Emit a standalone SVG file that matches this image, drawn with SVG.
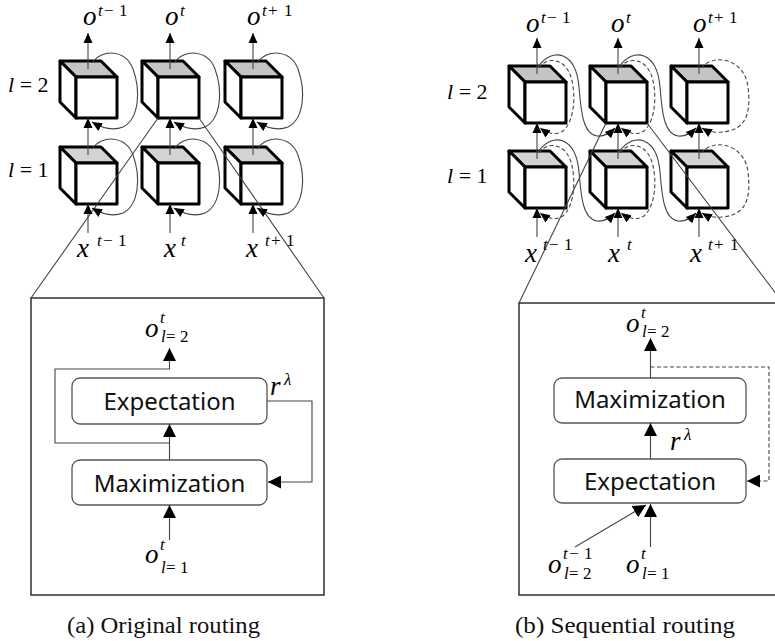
<svg xmlns="http://www.w3.org/2000/svg" width="775" height="641" viewBox="0 0 775 641">
<style>
.m{font-family:"Liberation Serif","DejaVu Serif",serif;fill:#000}
.i{font-style:italic}
.b{font-size:27px}
.s{font-size:17px}
.lab{font-size:22px}
.cap{font-family:"Liberation Serif","DejaVu Serif",serif;font-size:23px;fill:#111}
.bt{font-family:"Noto Sans","Open Sans",sans-serif;font-size:24px;text-anchor:middle;fill:#111}
.cube{stroke:#000;stroke-width:3;stroke-linejoin:round}
.ln{fill:none;stroke:#444;stroke-width:1.1}
.dash{stroke-dasharray:4 2.5}
.frame{fill:#fff;stroke:#222;stroke-width:1.4}
.rbox{fill:#fff;stroke:#555;stroke-width:1.3}
.ah{marker-end:url(#ah)}
.ahb{marker-end:url(#ahb)}
</style>
<defs>
<marker id="ah" markerUnits="userSpaceOnUse" markerWidth="10" markerHeight="10" viewBox="0 0 10 10" refX="10" refY="5" orient="auto"><path d="M0,0.5L10,5L0,9.5Z" fill="#000"/></marker>
<marker id="ahb" markerUnits="userSpaceOnUse" markerWidth="13" markerHeight="13" viewBox="0 0 13 13" refX="13" refY="6.5" orient="auto"><path d="M0,0L13,6.5L0,13Z" fill="#000"/></marker>
<g id="cube" class="cube">
<path d="M-16,-16H25L41,0H0Z"/>
<path d="M-16,-16L0,0V41L-16,25Z" fill="#fff"/>
<rect width="41" height="41" fill="#fff"/>
</g>
</defs>
<rect width="775" height="641" fill="#fff"/>

<!-- frames -->
<g id="frame-a"><rect class="frame" x="31" y="298" width="293" height="297"/></g>
<g id="frame-b"><rect class="frame" x="519" y="303" width="300" height="292"/></g>

<!-- cubes panel a -->
<g id="a-l2-t0"><use href="#cube" x="76" y="77" fill="#c4c4c4"/></g>
<g id="a-l2-t1"><use href="#cube" x="158" y="77" fill="#c4c4c4"/></g>
<g id="a-l2-t2"><use href="#cube" x="241" y="77" fill="#c4c4c4"/></g>
<g id="a-l1-t0"><use href="#cube" x="76" y="163" fill="#d3d3d3"/></g>
<g id="a-l1-t1"><use href="#cube" x="158" y="163" fill="#d3d3d3"/></g>
<g id="a-l1-t2"><use href="#cube" x="241" y="163" fill="#d3d3d3"/></g>

<!-- cubes panel b -->
<g id="b-l2-t0"><use href="#cube" x="525" y="82" fill="#c4c4c4"/></g>
<g id="b-l2-t1"><use href="#cube" x="606" y="82" fill="#c4c4c4"/></g>
<g id="b-l2-t2"><use href="#cube" x="687" y="82" fill="#c4c4c4"/></g>
<g id="b-l1-t0"><use href="#cube" x="525" y="167" fill="#d3d3d3"/></g>
<g id="b-l1-t1"><use href="#cube" x="606" y="167" fill="#d3d3d3"/></g>
<g id="b-l1-t2"><use href="#cube" x="687" y="167" fill="#d3d3d3"/></g>

<!-- boxes -->
<g id="a-expectation"><rect class="rbox" x="72" y="378" width="195" height="46" rx="8"/><text class="bt" x="169.5" y="410">Expectation</text></g>
<g id="a-maximization"><rect class="rbox" x="72" y="460" width="195" height="45" rx="8"/><text class="bt" x="169.5" y="492">Maximization</text></g>
<g id="b-maximization"><rect class="rbox" x="554" y="378" width="192" height="45" rx="8"/><text class="bt" x="650" y="408">Maximization</text></g>
<g id="b-expectation"><rect class="rbox" x="554" y="459" width="192" height="44" rx="8"/><text class="bt" x="650" y="490">Expectation</text></g>

<!-- connectors -->
<g id="connectors">
<path class="ln" d="M158,118L31,298M199,118L324,298"/>
<path class="ln" d="M606,123L519,303M647,123L783,303"/>
<path class="ln ah" d="M88,69V33"/><path class="ln ah" d="M170,69V33"/><path class="ln ah" d="M253,69V33"/>
<path class="ln ah" d="M88,155V118"/><path class="ln ah" d="M170,155V118"/><path class="ln ah" d="M253,155V118"/>
<path class="ln ah" d="M88,233V204"/><path class="ln ah" d="M170,233V204"/><path class="ln ah" d="M253,233V204"/>
<path class="ln ah" d="M92,63C102,48 126,50 133,69C141,91 139,119 123,127C113,131 102,128 92,122"/>
<path class="ln ah" d="M174,63C184,48 208,50 215,69C223,91 221,119 205,127C195,131 184,128 174,122"/>
<path class="ln ah" d="M257,63C267,48 291,50 298,69C306,91 304,119 288,127C278,131 267,128 257,122"/>
<path class="ln ah" d="M92,149C102,134 126,136 133,155C141,177 139,205 123,213C113,217 102,214 92,208"/>
<path class="ln ah" d="M174,149C184,134 208,136 215,155C223,177 221,205 205,213C195,217 184,214 174,208"/>
<path class="ln ah" d="M257,149C267,134 291,136 298,155C306,177 304,205 288,213C278,217 267,214 257,208"/>
<path class="ln ah" d="M537,74V38"/><path class="ln ah" d="M618,74V38"/><path class="ln ah" d="M699,74V38"/>
<path class="ln ah" d="M537,159V123"/><path class="ln ah" d="M618,159V123"/><path class="ln ah" d="M699,159V123"/>
<path class="ln ah" d="M537,237V208"/><path class="ln ah" d="M618,237V208"/><path class="ln ah" d="M699,237V208"/>
<path class="ln dash ah" d="M539,68C547,56 565,58 571,77C576,94 575,120 563,131C555,136 547,133 540,128"/>
<path class="ln dash ah" d="M620,68C628,56 646,58 652,77C657,94 656,120 644,131C636,136 628,133 621,128"/>
<path class="ln dash ah" d="M701,68C715,52 745,60 748,87C751,112 747,130 722,132C715,133 707,131 702,128"/>
<path class="ln dash ah" d="M539,153C547,141 565,143 571,162C576,179 575,205 563,216C555,221 547,218 540,213"/>
<path class="ln dash ah" d="M620,153C628,141 646,143 652,162C657,179 656,205 644,216C636,221 628,218 621,213"/>
<path class="ln dash ah" d="M701,153C715,137 745,145 748,172C751,197 747,215 722,217C715,218 707,216 702,213"/>
<path class="ln ah" d="M538,67C553,46 576,52 579,87C581,112 583,134 597,136C605,137 611,132 615,128"/>
<path class="ln ah" d="M619,67C634,46 657,52 660,87C662,112 664,134 678,136C686,137 692,132 696,128"/>
<path class="ln ah" d="M538,152C553,131 576,137 579,172C581,197 583,219 597,221C605,222 611,217 615,213"/>
<path class="ln ah" d="M619,152C634,131 657,137 660,172C662,197 664,219 678,221C686,222 692,217 696,213"/>
<path class="ln ahb" d="M169.5,540V505"/>
<path class="ln ahb" d="M169.5,460V424"/>
<path class="ln ahb" d="M169.5,443H55V369H169.5V348"/>
<path class="ln ahb" d="M267,401H312V482H268"/>
<path class="ln ahb" d="M650.5,378V338"/>
<path class="ln dash ahb" d="M650.5,367H769V481H747"/>
<path class="ln ahb" d="M650.5,459V423"/>
<path class="ln ahb" d="M650.5,547V504"/>
<path class="ln ahb" d="M575,547L646,505"/>
</g>

<!-- labels panel a -->
<g id="a-labels" class="m">
<text><tspan class="i b" x="83" y="25">o</tspan><tspan class="i s" x="98" y="16">t</tspan><tspan class="s" x="104" y="16">−</tspan><tspan class="s" x="119" y="16">1</tspan></text>
<text><tspan class="i b" x="165" y="25">o</tspan><tspan class="i s" x="180" y="16">t</tspan></text>
<text><tspan class="i b" x="247" y="25">o</tspan><tspan class="i s" x="262" y="16">t</tspan><tspan class="s" x="268" y="16">+</tspan><tspan class="s" x="284" y="16">1</tspan></text>
<text class="lab" x="8" y="92"><tspan class="i">l</tspan> = 2</text>
<text class="lab" x="8" y="177"><tspan class="i">l</tspan> = 1</text>
<text><tspan class="i b" x="77" y="257">x</tspan><tspan class="i s" x="97" y="246">t</tspan><tspan class="s" x="103" y="246">−</tspan><tspan class="s" x="118" y="246">1</tspan></text>
<text><tspan class="i b" x="164" y="257">x</tspan><tspan class="i s" x="181" y="246">t</tspan></text>
<text><tspan class="i b" x="246" y="257">x</tspan><tspan class="i s" x="265" y="246">t</tspan><tspan class="s" x="271" y="246">+</tspan><tspan class="s" x="286" y="246">1</tspan></text>
<text><tspan class="i b" x="145" y="337">o</tspan><tspan class="i s" x="160" y="323">t</tspan></text>
<text><tspan class="i s" x="161" y="342">l</tspan><tspan class="s" x="166" y="342">=</tspan><tspan class="s" x="180" y="342">2</tspan></text>
<text><tspan class="i b" x="270" y="395">r</tspan><tspan class="i s" x="284" y="385">λ</tspan></text>
<text><tspan class="i b" x="145" y="563">o</tspan><tspan class="i s" x="160" y="550">t</tspan></text>
<text><tspan class="i s" x="161" y="573">l</tspan><tspan class="s" x="166" y="573">=</tspan><tspan class="s" x="180" y="573">1</tspan></text>
<text class="cap" x="67" y="633" textLength="193" lengthAdjust="spacingAndGlyphs">(a) Original routing</text>
</g>

<!-- labels panel b -->
<g id="b-labels" class="m">
<text><tspan class="i b" x="526" y="32">o</tspan><tspan class="i s" x="541" y="23">t</tspan><tspan class="s" x="547" y="23">−</tspan><tspan class="s" x="562" y="23">1</tspan></text>
<text><tspan class="i b" x="611" y="32">o</tspan><tspan class="i s" x="626" y="23">t</tspan></text>
<text><tspan class="i b" x="693" y="32">o</tspan><tspan class="i s" x="708" y="23">t</tspan><tspan class="s" x="714" y="23">+</tspan><tspan class="s" x="729" y="23">1</tspan></text>
<text class="lab" x="447" y="99"><tspan class="i">l</tspan> = 2</text>
<text class="lab" x="447" y="183"><tspan class="i">l</tspan> = 1</text>
<text><tspan class="i b" x="525" y="262">x</tspan><tspan class="i s" x="543" y="250">t</tspan><tspan class="s" x="549" y="250">−</tspan><tspan class="s" x="564" y="250">1</tspan></text>
<text><tspan class="i b" x="608" y="262">x</tspan><tspan class="i s" x="627" y="250">t</tspan></text>
<text><tspan class="i b" x="690" y="262">x</tspan><tspan class="i s" x="708" y="250">t</tspan><tspan class="s" x="714" y="250">+</tspan><tspan class="s" x="730" y="250">1</tspan></text>
<text><tspan class="i b" x="626" y="332">o</tspan><tspan class="i s" x="641" y="318">t</tspan></text>
<text><tspan class="i s" x="642" y="337">l</tspan><tspan class="s" x="647" y="337">=</tspan><tspan class="s" x="661" y="337">2</tspan></text>
<text><tspan class="i b" x="670" y="450">r</tspan><tspan class="i s" x="684" y="440">λ</tspan></text>
<text><tspan class="i b" x="548" y="573">o</tspan><tspan class="i s" x="563" y="559">t</tspan><tspan class="s" x="569" y="559">−</tspan><tspan class="s" x="584" y="559">1</tspan></text>
<text><tspan class="i s" x="564" y="579">l</tspan><tspan class="s" x="569" y="579">=</tspan><tspan class="s" x="583" y="579">2</tspan></text>
<text><tspan class="i b" x="626" y="573">o</tspan><tspan class="i s" x="641" y="559">t</tspan></text>
<text><tspan class="i s" x="642" y="579">l</tspan><tspan class="s" x="647" y="579">=</tspan><tspan class="s" x="661" y="579">1</tspan></text>
<text class="cap" x="515" y="633" textLength="220" lengthAdjust="spacingAndGlyphs">(b) Sequential routing</text>
</g>
</svg>
